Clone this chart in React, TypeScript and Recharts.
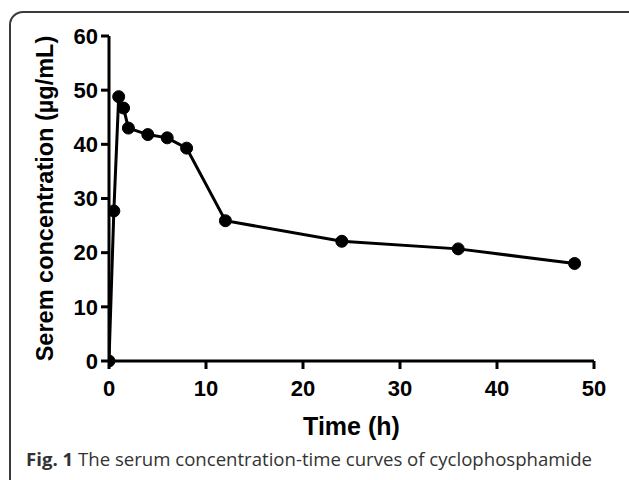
import React from 'react';
import { LineChart, Line, XAxis, YAxis } from 'recharts';

const times = [0, 0.5, 1, 1.5, 2, 4, 6, 8, 12, 24, 36, 48];
const concentrations = [0, 27.7, 48.8, 46.7, 43.0, 41.8, 41.2, 39.3, 25.9, 22.1, 20.7, 18.0];
const xTicks = [0, 10, 20, 30, 40, 50];
const yTicks = [0, 10, 20, 30, 40, 50, 60];

const data = times.map((t, i) => ({ t, c: concentrations[i] }));

const FONT = "'Liberation Sans', Arimo, Arial, sans-serif";

const XTick = (props: any) => (
  <text x={props.x} y={props.y} dy="0.71em" textAnchor="middle" fontFamily={FONT} fontWeight={700} fontSize={22} fill="#000">
    {props.payload.value}
  </text>
);

const YTick = (props: any) => (
  <text x={props.x} y={props.y} dy="0.355em" textAnchor="end" fontFamily={FONT} fontWeight={700} fontSize={22} fill="#000">
    {props.payload.value}
  </text>
);

export default function App() {
  return (
    <div style={{ position: 'absolute', left: 0, top: 0, width: 629, height: 480, overflow: 'hidden', background: '#fff' }}>
      <div style={{ position: 'absolute', left: 9, top: 11, width: 640, height: 520, border: '2px solid #3a3a3a', borderRadius: 14, boxSizing: 'border-box' }} />
      <div style={{ position: 'absolute', left: 0, top: 0, fontFamily: FONT }}>
        <LineChart width={629} height={480} data={data} margin={{ top: 36, right: 35, bottom: 89, left: 49 }}>
          <XAxis
            dataKey="t"
            type="number"
            domain={[0, 50]}
            ticks={xTicks}
            allowDataOverflow
            height={30}
            axisLine={{ stroke: '#000', strokeWidth: 3 }}
            tickLine={{ stroke: '#000', strokeWidth: 3 }}
            tickSize={8}
            tickMargin={11}
            tick={XTick}
            label={{ value: 'Time (h)', position: 'bottom', offset: 26, style: { fontFamily: FONT, fontWeight: 700, fontSize: 25, fill: '#000' } }}
          />
          <YAxis
            type="number"
            domain={[0, 60]}
            ticks={yTicks}
            width={60}
            axisLine={{ stroke: '#000', strokeWidth: 3 }}
            tickLine={{ stroke: '#000', strokeWidth: 3 }}
            tickSize={8}
            tickMargin={3}
            tick={YTick}
            label={{ value: 'Serem concentration (\u00b5g/mL)', angle: -90, position: 'center', dx: -34, style: { fontFamily: FONT, fontWeight: 700, fontSize: 23.5, fill: '#000', textAnchor: 'middle' } }}
          />
          <Line
            dataKey="c"
            stroke="#000"
            strokeWidth={3}
            dot={{ r: 6, fill: '#000', stroke: '#000', strokeWidth: 1 }}
            isAnimationActive={false}
          />
        </LineChart>
      </div>
      <div style={{ position: 'absolute', left: 26, top: 446, fontFamily: "'Open Sans', sans-serif", fontSize: 18.6, color: '#333', whiteSpace: 'nowrap' }}>
        <b>Fig. 1</b> The serum concentration-time curves of cyclophosphamide
      </div>
    </div>
  );
}
